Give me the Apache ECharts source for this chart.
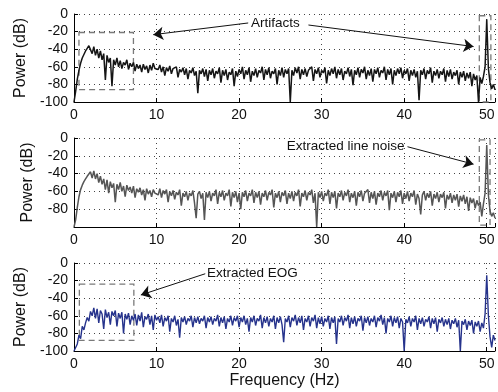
<!DOCTYPE html>
<html><head><meta charset="utf-8">
<script src="https://cdn.jsdelivr.net/npm/echarts@6/dist/echarts.min.js"></script>
<style>html,body{margin:0;padding:0;background:#fff}#c{width:498px;height:392px}</style>
</head><body><div id="c"></div>
<script>
// Frequency grid: 0 to 51 Hz in 0.2 Hz steps (256 samples)
const freqStep = 0.2;
const xTicks = [0, 10, 20, 30, 40, 50];
const yTicks = [0, -20, -40, -60, -80, -100];

// Panel 1: raw signal spectrum (dB)
const rawPower = [
 -100,-88,-74,-64,-56,-50,-46,-42,-39,-36,
 -34,-45,-37,-47,-40,-50,-42,-52,-45,-75,
 -47,-55,-50,-82,-52,-58,-50,-60,-53,-62,
 -55,-58,-52,-63,-56,-60,-55,-65,-57,-62,
 -58,-66,-57,-63,-59,-67,-58,-64,-56,-62,
 -60,-63,-58,-66,-60,-70,-61,-65,-59,-68,
 -62,-64,-60,-72,-63,-66,-61,-69,-62,-74,
 -64,-67,-61,-70,-65,-90,-64,-68,-62,-71,
 -63,-76,-64,-69,-62,-73,-65,-68,-61,-78,
 -64,-70,-63,-75,-66,-69,-62,-82,-65,-71,
 -63,-68,-60,-74,-64,-69,-61,-77,-65,-70,
 -62,-72,-64,-67,-60,-75,-63,-69,-61,-73,
 -65,-68,-62,-80,-64,-70,-61,-72,-63,-68,
 -62,-100,-64,-70,-61,-67,-60,-74,-63,-69,
 -62,-71,-64,-66,-60,-76,-63,-68,-61,-72,
 -64,-67,-61,-79,-64,-70,-62,-68,-60,-73,
 -63,-69,-62,-75,-65,-68,-61,-71,-63,-81,
 -64,-69,-61,-72,-63,-67,-60,-74,-64,-70,
 -62,-77,-63,-68,-61,-72,-64,-67,-60,-75,
 -63,-69,-62,-80,-64,-70,-62,-68,-61,-73,
 -64,-68,-62,-76,-64,-70,-63,-72,-65,-98,
 -64,-69,-62,-74,-64,-68,-61,-78,-65,-70,
 -63,-73,-65,-69,-62,-77,-64,-71,-63,-74,
 -66,-70,-64,-80,-66,-72,-65,-76,-67,-73,
 -66,-82,-68,-75,-70,-100,-72,-79,-71,-60,
 -6,-62,-78,-85,-80,-86
];

// Panel 2: extracted line noise spectrum (dB)
const lineNoisePower = [
 -100,-92,-78,-66,-58,-53,-49,-46,-43,-41,
 -38,-45,-37,-46,-40,-50,-43,-52,-46,-58,
 -47,-62,-49,-56,-51,-72,-52,-58,-50,-60,
 -54,-66,-53,-59,-55,-62,-54,-67,-57,-61,
 -56,-64,-58,-70,-57,-63,-59,-66,-58,-62,
 -60,-64,-57,-67,-59,-63,-58,-72,-60,-65,
 -59,-69,-61,-64,-58,-76,-62,-66,-60,-70,
 -62,-65,-59,-73,-90,-63,-60,-68,-62,-92,
 -61,-67,-60,-71,-62,-65,-58,-74,-61,-66,
 -59,-70,-62,-65,-58,-77,-61,-67,-60,-72,
 -62,-80,-61,-66,-59,-71,-62,-65,-58,-73,
 -61,-67,-60,-75,-62,-66,-59,-70,-61,-64,
 -58,-78,-62,-67,-60,-72,-61,-65,-59,-74,
 -62,-68,-60,-71,-61,-65,-58,-77,-62,-66,
 -59,-70,-61,-64,-58,-73,-62,-100,-61,-67,
 -60,-71,-62,-65,-58,-74,-61,-67,-60,-79,
 -62,-66,-59,-70,-61,-65,-58,-72,-62,-67,
 -60,-76,-61,-66,-59,-71,-62,-64,-58,-73,
 -61,-68,-60,-75,-62,-66,-59,-70,-61,-65,
 -59,-81,-62,-67,-60,-72,-61,-66,-59,-74,
 -62,-68,-60,-71,-62,-66,-59,-75,-63,-68,
 -86,-64,-60,-70,-62,-67,-60,-76,-63,-68,
 -61,-72,-63,-67,-61,-79,-64,-69,-62,-73,
 -64,-70,-63,-77,-65,-71,-64,-74,-66,-82,
 -67,-73,-68,-79,-70,-76,-72,-88,-74,-62,
 -8,-64,-82,-88,-84,-90
];

// Panel 3: extracted EOG spectrum (dB)
const eogPower = [
 -100,-100,-92,-82,-86,-72,-76,-68,-62,-66,
 -55,-60,-51,-63,-52,-68,-54,-58,-75,-53,
 -62,-56,-70,-55,-60,-54,-72,-57,-63,-56,
 -80,-58,-64,-57,-70,-60,-65,-58,-71,-59,
 -66,-56,-73,-61,-64,-58,-70,-60,-76,-59,
 -65,-61,-68,-59,-72,-62,-66,-60,-78,-63,
 -67,-60,-71,-64,-85,-62,-67,-61,-70,-63,
 -66,-60,-73,-62,-68,-61,-69,-63,-66,-60,
 -74,-62,-67,-61,-70,-63,-66,-59,-72,-62,
 -68,-61,-75,-63,-67,-60,-71,-62,-66,-60,
 -73,-62,-67,-60,-70,-63,-78,-62,-67,-60,
 -71,-63,-66,-59,-74,-62,-68,-61,-72,-63,
 -67,-60,-75,-62,-68,-61,-70,-90,-63,-67,
 -60,-73,-62,-66,-59,-71,-62,-68,-60,-76,
 -63,-67,-60,-72,-62,-66,-59,-74,-62,-69,
 -61,-72,-63,-67,-60,-75,-62,-68,-61,-92,
 -63,-67,-60,-71,-62,-66,-59,-74,-62,-69,
 -61,-72,-63,-66,-60,-77,-62,-68,-61,-71,
 -63,-67,-60,-73,-62,-66,-59,-70,-62,-80,
 -63,-67,-60,-72,-62,-68,-61,-74,-63,-67,
 -100,-64,-68,-61,-72,-63,-67,-60,-76,-63,
 -69,-62,-72,-64,-67,-61,-74,-63,-69,-62,
 -78,-64,-68,-62,-72,-64,-70,-63,-75,-65,
 -69,-63,-73,-65,-100,-66,-70,-64,-76,-66,
 -71,-65,-80,-67,-72,-66,-78,-68,-74,-58,
 -14,-60,-84,-96,-82,-88
];

// Annotation texts
const labels = ['Artifacts', 'Extracted line noise', 'Extracted EOG'];

const FONT = 'Liberation Sans, Arial, Helvetica, sans-serif';
const toPairs = arr => arr.map((v, i) => [+(i * freqStep).toFixed(1), v]);

const grids = [
  {left: 74, top: 14, width: 424, height: 88},
  {left: 74, top: 138, width: 424, height: 89},
  {left: 74, top: 263, width: 424, height: 88}
];

function xAxis(i) {
  return {
    type: 'value', gridIndex: i, min: 0, max: 51, interval: 10,
    axisLine: {show: true, onZero: false, lineStyle: {color: '#000', width: 1}},
    axisTick: {show: true, inside: true, length: 4, lineStyle: {color: '#000'}},
    axisLabel: {color: '#111', fontSize: 14, fontFamily: FONT, margin: 6,
      formatter: v => xTicks.includes(v) ? String(v) : ''},
    splitLine: {show: true, lineStyle: {color: '#444', type: [1, 4], width: 1}},
    name: i === 2 ? 'Frequency (Hz)' : '',
    nameLocation: 'middle', nameGap: 22,
    nameTextStyle: {fontSize: 16, fontFamily: FONT, color: '#111'}
  };
}
function yAxis(i) {
  return {
    type: 'value', gridIndex: i, min: -100, max: 0, interval: 20,
    axisLine: {show: true, lineStyle: {color: '#000', width: 1}},
    axisTick: {show: true, inside: true, length: 4, lineStyle: {color: '#000'}},
    axisLabel: {color: '#111', fontSize: 14, fontFamily: FONT, margin: 6,
      showMinLabel: i !== 1,
      formatter: v => yTicks.includes(v) ? String(v) : ''},
    splitLine: {show: true, lineStyle: {color: '#444', type: [1, 4], width: 1}},
    name: 'Power (dB)', nameLocation: 'middle', nameGap: 38,
    nameTextStyle: {fontSize: 16, fontFamily: FONT, color: '#111'}
  };
}

const rectStyle = {color: 'rgba(0,0,0,0)', borderColor: '#7a7a7a', borderWidth: 1.3, borderType: [6, 4]};
const arrowLine = {color: '#111', width: 1, type: 'solid'};
function textPoint(coord, text) {
  return {coord, symbol: 'circle', symbolSize: 0,
    label: {show: true, position: 'inside', formatter: text, color: '#111', fontSize: 13.5, fontFamily: FONT}};
}

const seriesDefs = [
  {data: rawPower, color: '#151515', width: 1.5,
   rects: [[[0.6, -21], [7.2, -86]], [[49.1, -2], [50.5, -100]]],
   arrows: [[[21.1, -10.2], [9.6, -23.5]], [[28.4, -12.5], [48.4, -37]]],
   text: [[24.4, -10.8], labels[0]]},
  {data: lineNoisePower, color: '#555555', width: 1.5,
   rects: [[[49.1, -2], [50.4, -98]]],
   arrows: [[[40.4, -9.8], [48.4, -29.4]]],
   text: [[32.9, -9.5], labels[1]]},
  {data: eogPower, color: '#26338c', width: 1.4,
   rects: [[[0.65, -24], [7.25, -88]]],
   arrows: [[[15.9, -12.2], [8.1, -36.3]]],
   text: [[21.6, -12.2], labels[2]]}
];

const series = seriesDefs.map((d, i) => ({
  type: 'line', xAxisIndex: i, yAxisIndex: i,
  data: toPairs(d.data), showSymbol: false, symbol: 'none',
  lineStyle: {color: d.color, width: d.width}, itemStyle: {color: d.color},
  animation: false, silent: true, z: 3,
  markArea: {silent: true, itemStyle: rectStyle,
    data: d.rects.map(r => [{coord: r[0]}, {coord: r[1]}])},
  markLine: {silent: true, symbol: ['none', 'arrow'], symbolSize: 10, animation: false,
    lineStyle: arrowLine, label: {show: false},
    data: d.arrows.map(a => [{coord: a[0]}, {coord: a[1]}])},
  markPoint: {silent: true, animation: false, data: [textPoint(d.text[0], d.text[1])]}
}));

const chart = echarts.init(document.getElementById('c'), null, {renderer: 'canvas'});
chart.setOption({
  animation: false,
  backgroundColor: '#fff',
  grid: grids,
  xAxis: [0, 1, 2].map(xAxis),
  yAxis: [0, 1, 2].map(yAxis),
  series
});
</script></body></html>
